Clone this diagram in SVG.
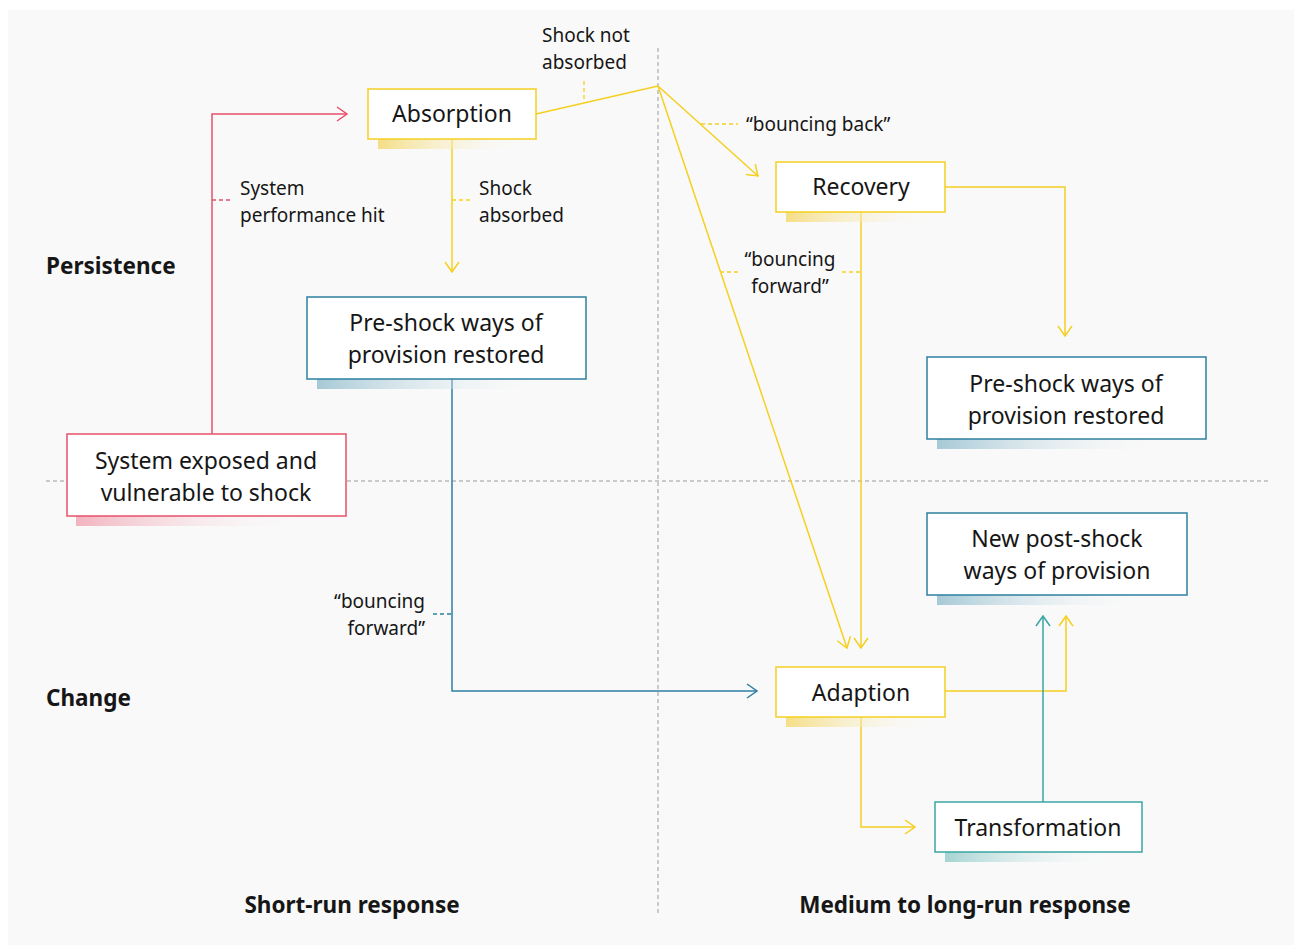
<svg xmlns="http://www.w3.org/2000/svg" width="1294" height="945" viewBox="0 0 1294 945">
  <defs>
    <style>
      .node { fill: #ffffff; stroke-width: 1.5; }
      .y { stroke: #f5d020; }
      .r { stroke: #e8506a; }
      .b { stroke: #2e7fa0; }
      .t { stroke: #3aa5a2; }
      .lbl { font-family: "Noto Sans", "Open Sans", sans-serif; font-size: 23px; fill: #161616; text-anchor: middle; }
      .note { font-family: "Noto Sans", "Open Sans", sans-serif; font-size: 19px; fill: #161616; }
      .head { font-family: "Noto Sans", "Open Sans", sans-serif; font-size: 22.5px; font-weight: bold; fill: #161616; }
      .conn { fill: none; stroke-width: 1.5; }
      .lead { fill: none; stroke-width: 1.3; stroke-dasharray: 4 3; }
      .grid { fill: none; stroke: #9a9a9a; stroke-width: 1; stroke-dasharray: 4 3; }
    </style>
    <linearGradient id="gy" x1="0" x2="1" y1="0" y2="0">
      <stop offset="0" stop-color="#f5de85"/>
      <stop offset="1" stop-color="#f9f9f9" stop-opacity="0"/>
    </linearGradient>
    <linearGradient id="gr" x1="0" x2="1" y1="0" y2="0">
      <stop offset="0" stop-color="#f2b3bf"/>
      <stop offset="1" stop-color="#f9f9f9" stop-opacity="0"/>
    </linearGradient>
    <linearGradient id="gb" x1="0" x2="1" y1="0" y2="0">
      <stop offset="0" stop-color="#a6c9d6"/>
      <stop offset="1" stop-color="#f9f9f9" stop-opacity="0"/>
    </linearGradient>
    <linearGradient id="gt" x1="0" x2="1" y1="0" y2="0">
      <stop offset="0" stop-color="#a5d4d2"/>
      <stop offset="1" stop-color="#f9f9f9" stop-opacity="0"/>
    </linearGradient>
    <marker id="ay" viewBox="0 0 12 16" refX="11" refY="8" markerWidth="12" markerHeight="16" markerUnits="userSpaceOnUse" orient="auto">
      <path d="M1,1 L11,8 L1,15" fill="none" stroke="#f5d020" stroke-width="1.5"/>
    </marker>
    <marker id="ar" viewBox="0 0 12 16" refX="11" refY="8" markerWidth="12" markerHeight="16" markerUnits="userSpaceOnUse" orient="auto">
      <path d="M1,1 L11,8 L1,15" fill="none" stroke="#e8506a" stroke-width="1.5"/>
    </marker>
    <marker id="ab" viewBox="0 0 12 16" refX="11" refY="8" markerWidth="12" markerHeight="16" markerUnits="userSpaceOnUse" orient="auto">
      <path d="M1,1 L11,8 L1,15" fill="none" stroke="#2e7fa0" stroke-width="1.5"/>
    </marker>
    <marker id="at" viewBox="0 0 12 16" refX="11" refY="8" markerWidth="12" markerHeight="16" markerUnits="userSpaceOnUse" orient="auto">
      <path d="M1,1 L11,8 L1,15" fill="none" stroke="#3aa5a2" stroke-width="1.5"/>
    </marker>
  </defs>

  <!-- canvas -->
  <rect x="0" y="0" width="1294" height="945" fill="#ffffff"/>
  <rect x="8" y="10" width="1286" height="935" fill="#f9f9f9"/>

  <!-- quadrant guides -->
  <g id="guides">
    <line class="grid" x1="658" y1="48" x2="658" y2="913"/>
    <line class="grid" x1="46" y1="481" x2="1270" y2="481"/>
  </g>

  <!-- axis headings -->
  <g id="axes">
    <text class="head" x="46" y="274">Persistence</text>
    <text class="head" x="46" y="706">Change</text>
    <text class="head" x="352" y="913" text-anchor="middle">Short-run response</text>
    <text class="head" x="965" y="913" text-anchor="middle">Medium to long-run response</text>
  </g>

  <!-- connectors -->
  <g id="connectors">
    <!-- exposure to absorption -->
    <polyline class="conn r" points="212,434 212,114 347,114" marker-end="url(#ar)"/>
    <line class="lead r" x1="212" y1="200" x2="232" y2="200"/>
    <text class="note" x="240" y="195">System</text>
    <text class="note" x="240" y="222">performance hit</text>

    <!-- absorption to pre-shock restored -->
    <line class="conn y" x1="452" y1="139" x2="452" y2="272" marker-end="url(#ay)"/>
    <line class="lead y" x1="452" y1="200" x2="472" y2="200"/>
    <text class="note" x="479" y="195">Shock</text>
    <text class="note" x="479" y="222">absorbed</text>

    <!-- shock not absorbed -->
    <polyline class="conn y" points="536,114 658,86"/>
    <line class="lead y" x1="584" y1="81" x2="584" y2="103"/>
    <text class="note" x="542" y="42">Shock not</text>
    <text class="note" x="542" y="69">absorbed</text>

    <!-- bouncing back -->
    <line class="conn y" x1="658" y1="86" x2="758" y2="176" marker-end="url(#ay)"/>
    <line class="lead y" x1="701" y1="124" x2="738" y2="124"/>
    <text class="note" x="746" y="131">“bouncing back”</text>

    <!-- direct to adaption -->
    <line class="conn y" x1="658" y1="86" x2="847" y2="648" marker-end="url(#ay)"/>

    <!-- recovery to adaption -->
    <line class="conn y" x1="861" y1="212" x2="861" y2="648" marker-end="url(#ay)"/>
    <line class="lead y" x1="720" y1="272" x2="739" y2="272"/>
    <line class="lead y" x1="842" y1="272" x2="861" y2="272"/>
    <text class="note" x="790" y="266" text-anchor="middle">“bouncing</text>
    <text class="note" x="790" y="293" text-anchor="middle">forward”</text>

    <!-- recovery to pre-shock restored -->
    <polyline class="conn y" points="945,187 1065,187 1065,336" marker-end="url(#ay)"/>

    <!-- pre-shock restored to adaption -->
    <polyline class="conn b" points="452,379 452,691 757,691" marker-end="url(#ab)"/>
    <line class="lead b" x1="433" y1="614" x2="452" y2="614"/>
    <text class="note" x="425" y="608" text-anchor="end">“bouncing</text>
    <text class="note" x="425" y="635" text-anchor="end">forward”</text>

    <!-- adaption to new ways -->
    <polyline class="conn y" points="945,691 1066,691 1066,616" marker-end="url(#ay)"/>

    <!-- adaption to transformation -->
    <polyline class="conn y" points="861,717 861,827 915,827" marker-end="url(#ay)"/>

    <!-- transformation to new ways -->
    <line class="conn t" x1="1043" y1="802" x2="1043" y2="616" marker-end="url(#at)"/>
  </g>

  <!-- nodes -->
  <g id="absorption">
    <rect x="378" y="139" width="150" height="10" fill="url(#gy)"/>
    <rect class="node y" x="368" y="89" width="168" height="50"/>
    <text class="lbl" x="452" y="122">Absorption</text>
  </g>

  <g id="recovery">
    <rect x="786" y="212" width="150" height="10" fill="url(#gy)"/>
    <rect class="node y" x="776" y="162" width="169" height="50"/>
    <text class="lbl" x="861" y="195">Recovery</text>
  </g>

  <g id="preshock-short">
    <rect x="317" y="379" width="230" height="10" fill="url(#gb)"/>
    <rect class="node b" x="307" y="297" width="279" height="82"/>
    <text class="lbl" x="446" y="331">Pre-shock ways of</text>
    <text class="lbl" x="446" y="363">provision restored</text>
  </g>

  <g id="preshock-long">
    <rect x="937" y="439" width="230" height="10" fill="url(#gb)"/>
    <rect class="node b" x="927" y="357" width="279" height="82"/>
    <text class="lbl" x="1066" y="392">Pre-shock ways of</text>
    <text class="lbl" x="1066" y="424">provision restored</text>
  </g>

  <g id="exposed">
    <rect x="76" y="516" width="230" height="10" fill="url(#gr)"/>
    <rect class="node r" x="67" y="434" width="279" height="82"/>
    <text class="lbl" x="206" y="469">System exposed and</text>
    <text class="lbl" x="206" y="501">vulnerable to shock</text>
  </g>

  <g id="new-ways">
    <rect x="937" y="595" width="210" height="10" fill="url(#gb)"/>
    <rect class="node b" x="927" y="513" width="260" height="82"/>
    <text class="lbl" x="1057" y="547">New post-shock</text>
    <text class="lbl" x="1057" y="579">ways of provision</text>
  </g>

  <g id="adaption">
    <rect x="786" y="717" width="150" height="10" fill="url(#gy)"/>
    <rect class="node y" x="776" y="667" width="169" height="50"/>
    <text class="lbl" x="861" y="701">Adaption</text>
  </g>

  <g id="transformation">
    <rect x="945" y="852" width="170" height="10" fill="url(#gt)"/>
    <rect class="node t" x="935" y="802" width="207" height="50"/>
    <text class="lbl" x="1038" y="836">Transformation</text>
  </g>
</svg>
